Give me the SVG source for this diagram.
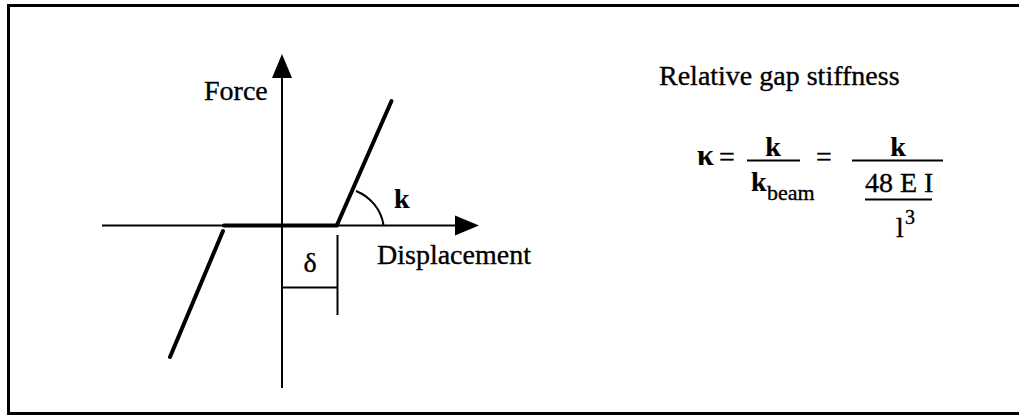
<svg xmlns="http://www.w3.org/2000/svg" width="1019" height="417" viewBox="0 0 1019 417">
<style>
.t{font-family:"Liberation Serif","Times New Roman",serif;fill:#000;font-size:28px;stroke:#000;stroke-width:0.35}
.b{font-weight:bold;stroke-width:0.2}
.sub{font-size:22px}
.sup{font-size:20px}
.thin{stroke:#000;stroke-width:2;fill:none}
.thick{stroke:#000;stroke-width:4;fill:none;stroke-linecap:round}
</style>
<rect width="1019" height="417" fill="#fff"/>
<g id="frame">
<path d="M1022,5.5 H8.5 V413.5 H1022" fill="none" stroke="#000" stroke-width="3"/>
</g>
<g id="connectors">
<line class="thin" x1="282" y1="76" x2="282" y2="388"/>
<polygon points="282,54 272,78 292,78" fill="#000"/>
<line class="thin" x1="102" y1="225.5" x2="457" y2="225.5"/>
<polygon points="479,225.5 455,215.5 455,235.5" fill="#000"/>
<line class="thick" x1="224" y1="225.5" x2="337" y2="225.5" stroke-linecap="butt"/>
<line class="thick" x1="337" y1="225" x2="391.5" y2="101"/>
<line class="thick" x1="223" y1="231" x2="170" y2="357"/>
<path class="thin" d="M383.5,225 A45,44 0 0 0 356,191"/>
<line class="thin" x1="337.5" y1="235" x2="337.5" y2="315"/>
<line class="thin" x1="282" y1="287.5" x2="337.5" y2="287.5"/>
</g>
<g id="labels">
<text class="t" x="204" y="100">Force</text>
<text class="t b" x="394" y="208">k</text>
<text class="t" x="377" y="264">Displacement</text>
<text class="t" x="310" y="272" text-anchor="middle">δ</text>
</g>
<g id="formula">
<text class="t" x="659" y="85">Relative gap stiffness</text>
<text class="t b" x="697" y="165" style="font-size:30px">κ</text>
<text class="t" x="719" y="166">=</text>
<text class="t b" x="773" y="156" text-anchor="middle">k</text>
<line class="thin" x1="747" y1="160.5" x2="800" y2="160.5"/>
<text class="t b" x="751" y="191">k</text>
<text class="t sub" x="767" y="200">beam</text>
<text class="t" x="816" y="166">=</text>
<text class="t b" x="898" y="156" text-anchor="middle">k</text>
<line class="thin" x1="852" y1="160.5" x2="943" y2="160.5"/>
<text class="t" x="865" y="192">48 E I</text>
<line class="thin" x1="865" y1="199.5" x2="932" y2="199.5"/>
<text class="t" x="896" y="237">l</text>
<text class="t sup" x="905" y="224">3</text>
</g>
</svg>
